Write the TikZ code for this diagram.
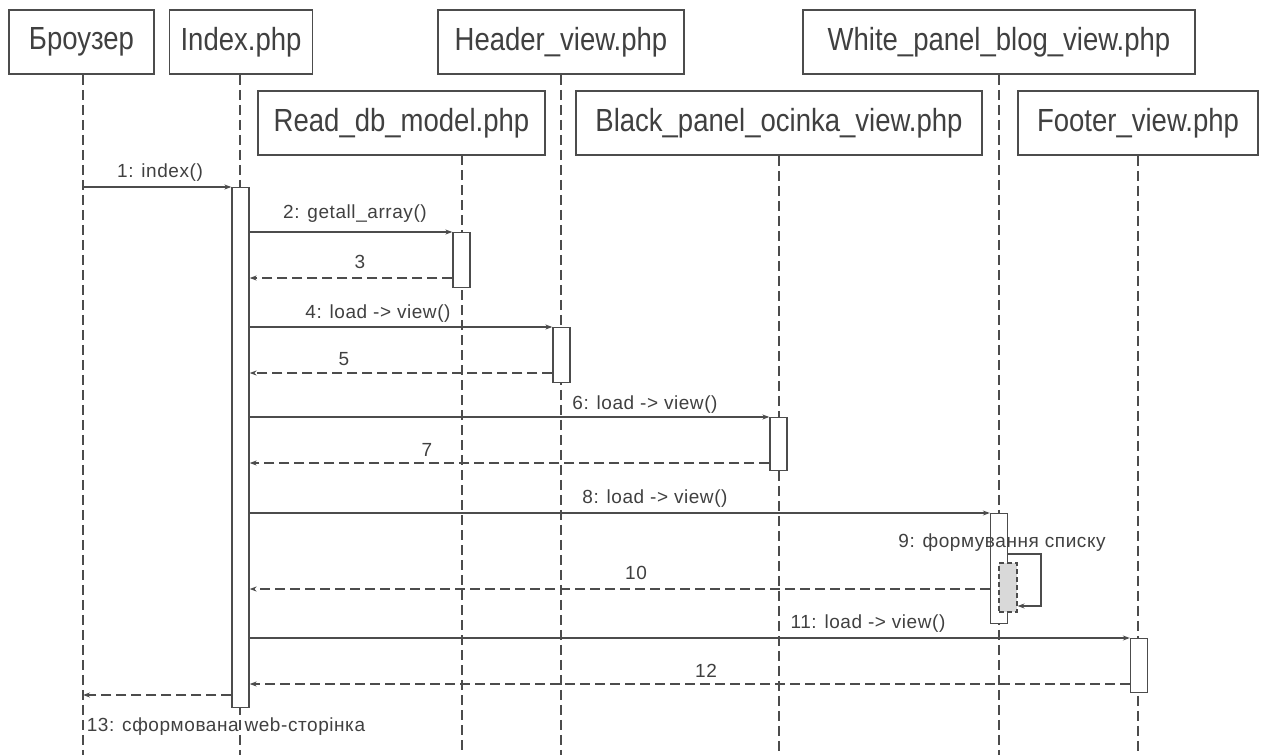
\documentclass[tikz,border=0pt]{standalone}
\usepackage{fontspec}
\setmainfont{Liberation Sans}
\newfontfamily\headfont{Liberation Sans}[FakeStretch=0.86]
\newfontfamily\msgfont{Liberation Sans}[LetterSpace=3]
\usetikzlibrary{arrows.meta}
\definecolor{ink}{gray}{0.3}
\definecolor{txt}{gray}{0.25}
\tikzset{
  head/.style={draw=ink, line width=1.5pt, fill=white, minimum height=64pt, inner sep=0pt,
    font=\headfont\fontsize{32}{36}\selectfont, text=txt},
  life/.style={draw=ink, line width=1.3pt, dash pattern=on 10pt off 5pt},
  act/.style={draw=ink, line width=1.3pt, fill=white, minimum width=17pt, inner sep=0pt, anchor=north},
  nest/.style={draw=ink, line width=1.1pt, dash pattern=on 5pt off 3pt, fill=gray!30, minimum width=18pt, inner sep=0pt},
  tip/.style={-{Stealth[length=7pt,width=5pt]}},
  msg/.style={draw=ink, line width=1.3pt, tip},
  ret/.style={draw=ink, line width=1.3pt, dash pattern=on 10pt off 5pt, tip},
  lbl/.style={font=\msgfont\fontsize{19}{21}\selectfont, text=txt, inner sep=0pt}
}
\begin{document}
\begin{tikzpicture}[x=1pt,y=-1pt]
\useasboundingbox (0,0) rectangle (1264,755);
% heads
\node[head, minimum width=145pt] (br) at (81.5,42) {Броузер};
\node[head, minimum width=143pt] (ix) at (241,42) {Index.php};
\node[head, minimum width=246pt] (hd) at (561,42) {Header\_view.php};
\node[head, minimum width=392pt] (wh) at (999,42) {White\_panel\_blog\_view.php};
\node[head, minimum width=287pt] (rd) at (401.5,123) {Read\_db\_model.php};
\node[head, minimum width=406pt] (bl) at (779,123) {Black\_panel\_ocinka\_view.php};
\node[head, minimum width=240pt] (ft) at (1138,123) {Footer\_view.php};
% lifeline ends
\coordinate (brE) at (83,755);
\coordinate (ixE) at (240,755);
\coordinate (rdT) at (462,155);
\coordinate (rdE) at (462,755);
\coordinate (hdE) at (561,755);
\coordinate (blE) at (779,755);
\coordinate (whE) at (999,755);
\coordinate (ftE) at (1138,755);
\draw[life] (br.south -| brE) -- (brE);
\draw[life] (ix.south -| ixE) -- (ixE);
\draw[life] (rdT) -- (rdE);
\draw[life] (hd.south -| hdE) -- (hdE);
\draw[life] (bl.south -| blE) -- (blE);
\draw[life] (wh.south -| whE) -- (whE);
\draw[life] (ft.south -| ftE) -- (ftE);
% activations
\node[act, minimum height=520pt] (a1) at (240.5,187) {};
\node[act, minimum height=55pt] (a2) at (461.5,232) {};
\node[act, minimum height=55pt] (a3) at (561.5,327) {};
\node[act, minimum height=53pt] (a4) at (778.5,417) {};
\node[act, minimum height=110pt] (a5) at (999,513) {};
\node[nest, minimum height=49pt] (a5n) at (1008,587.5) {};
\node[act, minimum height=54pt] (a6) at (1139,638) {};
% message anchors
\coordinate (m1s) at (83,187);
\coordinate (m13e) at (83,695);
% messages
\draw[msg] (m1s) -- (a1.north west);
\draw[msg] (a1.east |- a2.north) -- (a2.north west);
\draw[ret] (a2.west |- 0,278) -- (a1.east |- 0,278);
\draw[msg] (a1.east |- a3.north) -- (a3.north west);
\draw[ret] (a3.west |- 0,373) -- (a1.east |- 0,373);
\draw[msg] (a1.east |- a4.north) -- (a4.north west);
\draw[ret] (a4.west |- 0,463) -- (a1.east |- 0,463);
\draw[msg] (a1.east |- a5.north) -- (a5.north west);
\draw[msg] (a5.east |- 0,554) -- (1041,554) -- (1041,606) -- (a5n.east |- 0,606);
\draw[ret] (a5.west |- 0,589) -- (a1.east |- 0,589);
\draw[msg] (a1.east |- a6.north) -- (a6.north west);
\draw[ret] (a6.west |- 0,684) -- (a1.east |- 0,684);
\draw[ret] (a1.west |- m13e) -- (m13e);
% labels
\node[lbl] (l1) at (160,173) {1: index()};
\node[lbl] (l2) at (355,214) {2: getall\_array()};
\node[lbl] (l3) at (360,262) {3};
\node[lbl] (l4) at (378,314) {4: load -> view()};
\node[lbl] (l5) at (344,359) {5};
\node[lbl] (l6) at (645,405) {6: load -> view()};
\node[lbl] (l7) at (427,450) {7};
\node[lbl] (l8) at (655,499) {8: load -> view()};
\node[lbl] (l9) at (1002,543) {9: формування списку};
\node[lbl] (l10) at (636,573) {10};
\node[lbl] (l11) at (868,624) {11: load -> view()};
\node[lbl] (l12) at (706,671) {12};
\node[lbl] (l13) at (226,727) {13: сформована web-сторінка};
\end{tikzpicture}
\end{document}
